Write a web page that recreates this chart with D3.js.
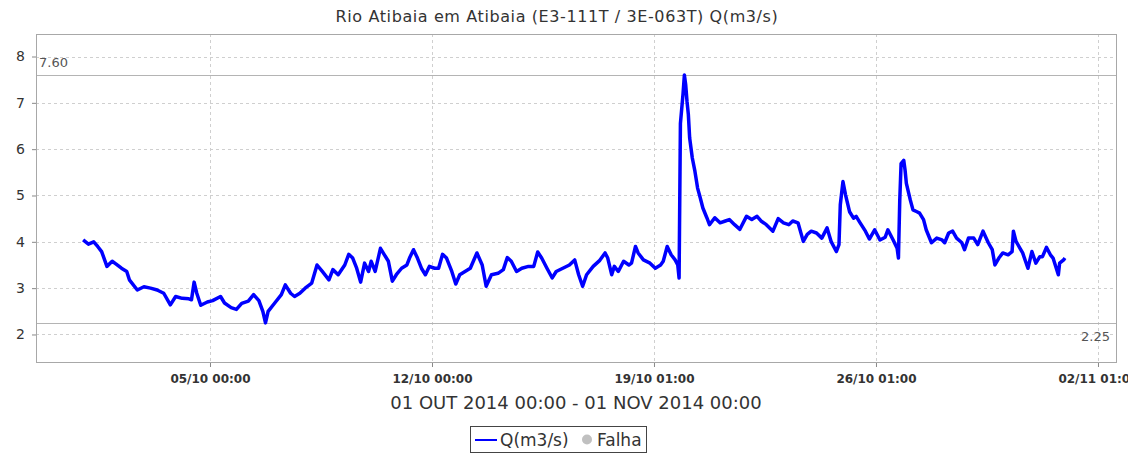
<!DOCTYPE html>
<html>
<head>
<meta charset="utf-8">
<script src="https://cdn.jsdelivr.net/npm/d3@7"></script>
<style>
  body { margin: 0; background: #fff; }
  text { font-family: "DejaVu Sans", sans-serif; fill: #333; }
</style>
</head>
<body>
<div id="chart"></div>
<script>
// hours since 01/10/2014 00:00 (local, UTC-3)
var hours = [0,4,8,11,14,18,22,25,29,33,35,41,46,51,56,61,66,70,75,80,82,84,86,89,94,98,104,107,112,116,
  120,125,129,133,136,138,140,145,150,153,157,160,164,168,173,177,181,186,189,193,
  198,201,204,207,210,213,216,218,221,225,228,231,234,237,241,245,247,250,253,256,259,262,266,269,272,275,
  279,282,285,289,293,298,302,305,309,314,318,321,324,328,332,337,341,344,347,351,355,358,363,368,372,375,
  378,381,386,391,
  395,397,400,402,405,409,413,415,418,420,424,429,433,437,439,442,445,448,450,451,452,454,455,456,457,458,
  459,461,463,465,467,469,472,474,478,482,486,489,493,497,502,506,510,513,517,522,526,530,534,537,541,545,
  548,551,555,559,563,566,570,572,573,575,577,580,583,585,
  588,592,595,599,603,607,609,613,616,617,618,619,621,622,623,626,628,631,633,636,638,642,646,650,652,655,
  658,661,665,667,670,674,677,681,685,688,690,693,696,700,703,704,706,709,711,715,718,721,724,726,729,732,
  734,738,739,742,743];

// Q (m3/s)
var flow = [4.04,3.95,4.00,3.90,3.79,3.47,3.58,3.52,3.43,3.36,3.18,2.96,3.03,3.00,2.96,2.89,2.64,2.82,2.78,2.77,
  2.75,3.13,2.89,2.63,2.70,2.73,2.82,2.68,2.58,2.54,2.67,2.72,2.86,2.73,2.50,2.25,2.50,2.68,2.86,3.07,
  2.89,2.82,2.89,3.00,3.11,3.50,3.36,3.18,3.40,3.29,
  3.50,3.73,3.65,3.43,3.13,3.54,3.36,3.58,3.36,3.86,3.72,3.58,3.15,3.29,3.43,3.50,3.65,3.83,3.65,3.43,
  3.29,3.47,3.43,3.43,3.73,3.65,3.36,3.09,3.29,3.36,3.43,3.76,3.50,3.04,3.29,3.32,3.40,3.66,3.58,3.36,
  3.43,3.47,3.47,3.78,3.65,3.43,3.22,3.36,3.43,3.50,3.61,3.29,3.04,3.29,3.47,3.60,
  3.76,3.65,3.29,3.47,3.36,3.58,3.50,3.54,3.90,3.76,3.61,3.54,3.43,3.50,3.58,3.90,3.72,3.61,3.50,3.22,
  6.55,7.20,7.60,7.39,7.03,6.75,6.24,5.81,5.52,5.16,4.95,4.73,4.52,4.37,4.52,4.41,4.45,4.48,4.37,4.27,
  4.55,4.48,4.55,4.45,4.37,4.23,4.50,4.41,4.37,4.45,4.41,4.01,4.16,4.23,4.19,4.08,4.30,4.01,3.79,3.94,
  4.80,5.30,5.01,4.65,4.51,4.55,
  4.41,4.23,4.06,4.26,4.04,4.10,4.26,4.04,3.86,3.65,4.90,5.69,5.76,5.55,5.26,4.90,4.69,4.65,4.62,4.48,
  4.26,3.98,4.08,4.04,3.98,4.19,4.23,4.08,3.98,3.83,4.08,4.08,3.94,4.23,3.98,3.83,3.50,3.65,3.76,3.72,
  3.79,4.23,4.01,3.86,3.76,3.43,3.79,3.54,3.68,3.68,3.88,3.72,3.65,3.29,3.54,3.61,3.65];

var xTickDates = ["2014-10-05T03:00Z", "2014-10-12T03:00Z", "2014-10-19T03:00Z", "2014-10-26T03:00Z", "2014-11-02T03:00Z"];
var xTickLabels = ["05/10 00:00", "12/10 00:00", "19/10 01:00", "26/10 01:00", "02/11 01:00"];
var yTicks = [2, 3, 4, 5, 6, 7, 8];
var maxMarker = 7.60, minMarker = 2.25;

var title = "Rio Atibaia em Atibaia (E3-111T / 3E-063T) Q(m3/s)";
var period = "01 OUT 2014 00:00 - 01 NOV 2014 00:00";
var legendItems = ["Q(m3/s)", "Falha"];

var start = Date.UTC(2014, 9, 1, 3);
var data = hours.map((h, i) => ({ t: new Date(start + h * 3600e3), v: flow[i] }));

var W = 1147, H = 458;
var plot = { left: 36, right: 1116, top: 34, bottom: 362 };

var svg = d3.select('#chart').append('svg').attr('width', W).attr('height', H);

var x = d3.scaleUtc()
  .domain([new Date(start - 35.67 * 3600e3), new Date(start + 781.64 * 3600e3)])
  .range([plot.left, plot.right]);
var y = d3.scaleLinear().domain([1.406, 8.486]).range([plot.bottom, plot.top]);

var xTicks = xTickDates.map(d => new Date(d));

// grid
var grid = svg.append('g').attr('stroke', '#cfcfcf').attr('stroke-dasharray', '3,3').attr('stroke-width', 1);
grid.selectAll('.gy').data(yTicks).enter().append('line')
  .attr('x1', plot.left).attr('x2', plot.right)
  .attr('y1', d => Math.round(y(d)) + 0.5).attr('y2', d => Math.round(y(d)) + 0.5);
grid.selectAll('.gx').data(xTicks).enter().append('line')
  .attr('y1', plot.top).attr('y2', plot.bottom)
  .attr('x1', d => Math.round(x(d)) + 0.5).attr('x2', d => Math.round(x(d)) + 0.5);

// max / min markers
var markers = svg.append('g');
[maxMarker, minMarker].forEach(m => {
  markers.append('line')
    .attr('x1', plot.left).attr('x2', plot.right)
    .attr('y1', Math.round(y(m)) + 0.5).attr('y2', Math.round(y(m)) + 0.5)
    .attr('stroke', '#b4b4b4').attr('stroke-width', 1.2);
});
markers.append('text').attr('x', plot.left + 3).attr('y', y(maxMarker) - 8)
  .attr('font-size', 13).style('fill', '#555').text(maxMarker.toFixed(2));
markers.append('text').attr('x', plot.right - 6).attr('y', y(minMarker) + 18)
  .attr('text-anchor', 'end').attr('font-size', 13).style('fill', '#555').text(minMarker.toFixed(2));

// series
var line = d3.line().x(d => x(d.t)).y(d => y(d.v));
svg.append('path').datum(data)
  .attr('d', line)
  .attr('fill', 'none')
  .attr('stroke', '#0000ff')
  .attr('stroke-width', 3.5)
  .attr('stroke-linejoin', 'round');

// border
svg.append('rect')
  .attr('x', plot.left + 0.5).attr('y', plot.top + 0.5)
  .attr('width', plot.right - plot.left).attr('height', plot.bottom - plot.top)
  .attr('fill', 'none').attr('stroke', '#a8a8a8');

// axes
svg.append('clipPath').attr('id', 'cut').append('rect')
  .attr('x', 0).attr('y', 0).attr('width', 1128).attr('height', H);

var yAxis = svg.append('g')
  .attr('transform', `translate(${plot.left},0)`)
  .call(d3.axisLeft(y).tickValues(yTicks).tickSize(4).tickPadding(7).tickFormat(d3.format('d')));
yAxis.select('.domain').remove();
yAxis.selectAll('line').attr('stroke', '#888');
yAxis.selectAll('text').attr('font-size', 14).attr('font-family', 'DejaVu Sans').style('fill', '#333');

var xAxis = svg.append('g')
  .attr('clip-path', 'url(#cut)')
  .attr('transform', `translate(0,${plot.bottom + 1})`)
  .call(d3.axisBottom(x).tickValues(xTicks).tickSize(4).tickFormat((d, i) => xTickLabels[i]));
xAxis.select('.domain').remove();
xAxis.selectAll('line').attr('stroke', '#888');
xAxis.selectAll('text').attr('font-size', 12).attr('font-weight', 'bold')
  .attr('font-family', 'DejaVu Sans').attr('dy', '1.1em').style('fill', '#333');

// titles
svg.append('text').attr('x', 557).attr('y', 22).attr('text-anchor', 'middle')
  .attr('font-size', 16).attr('letter-spacing', 0.6).text(title);
svg.append('text').attr('x', 576).attr('y', 409).attr('text-anchor', 'middle')
  .attr('font-size', 18).text(period);

// legend
var lg = svg.append('g');
lg.append('rect').attr('x', 470.5).attr('y', 426.5).attr('width', 176).attr('height', 26)
  .attr('fill', '#fff').attr('stroke', '#444');
lg.append('line').attr('x1', 475).attr('x2', 497).attr('y1', 440).attr('y2', 440)
  .attr('stroke', '#0000ff').attr('stroke-width', 2);
lg.append('text').attr('x', 500).attr('y', 446).attr('font-size', 17).text(legendItems[0]);
lg.append('circle').attr('cx', 587).attr('cy', 439.5).attr('r', 5).attr('fill', '#c0c0c0');
lg.append('text').attr('x', 597).attr('y', 446).attr('font-size', 17).text(legendItems[1]);
</script>
</body>
</html>
